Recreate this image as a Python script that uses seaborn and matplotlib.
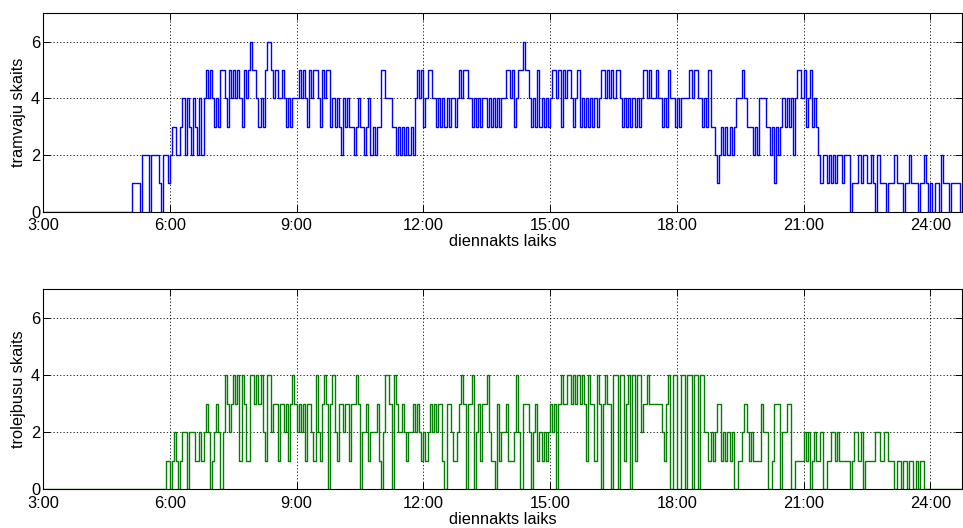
import numpy as np
import pandas as pd
import matplotlib
matplotlib.use("Agg")
import matplotlib.pyplot as plt
import seaborn as sns

# ---- data: counts per 3-minute slot, one string per hour (3:00 .. 24:45) ----
start_hour = 3
slot_minutes = 3
end_hour = 24.75

tram_hours = [
    "00000000000000000000",  # 3
    "00000000000000000000",  # 4
    "00111102220222210221",  # 5
    "23322342432432424545",  # 6
    "43435543545454354565",  # 7
    "54343566545445434344",  # 8
    "45454354554354553434",  # 9
    "32434332343323423233",  # 10
    "55444332323232324545",  # 11
    "34554434343434434545",  # 12
    "54434343443434343445",  # 13
    "54534556554343534343",  # 14
    "45545354554345343434",  # 15
    "34345545454554343434",  # 16
    "34345545445443435443",  # 17
    "43444454554434353321",  # 18
    "23232323444543332324",  # 19
    "44332313234343424554",  # 20
    "53453432122121212212",  # 21
    "22011121221121021110",  # 22
    "11121110112111011210",  # 23
    "101102111011110",       # 24
]

troll_hours = [
    "00000000000000000000",  # 3
    "00000000000000000000",  # 4
    "00000000000000000011",  # 5
    "01210122022211212320",  # 6
    "12320243234341431144",  # 7
    "34342144233133231343",  # 8
    "23231332142134303421",  # 9
    "33233133430223122231",  # 10
    "02443043223212232321",  # 11
    "21232323310332112343",  # 12
    "03340231334211031223",  # 13
    "11124203332023121212",  # 14
    "32303433443434343143",  # 15
    "31430343304404413404",  # 16
    "14423343333332134044",  # 17
    "00440440440442212123",  # 18
    "31212120011232121111",  # 19
    "32200133302233001111",  # 20
    "21201211200112212111",  # 21
    "11012212011111221122",  # 22
    "11101101101101011000",  # 23
    "000000000000000",       # 24
]

x_ticks = [3, 6, 9, 12, 15, 18, 21, 24]
x_tick_labels = ["3:00", "6:00", "9:00", "12:00", "15:00", "18:00", "21:00", "24:00"]
y_ticks = [0, 2, 4, 6]
y_labels = ["tramvaju skaits", "trolejbusu skaits"]
x_label = "diennakts laiks"
colors = ["#0000ff", "#008000"]


def to_frame(hours):
    vals = [int(c) for c in "".join(hours)]
    t = start_hour + np.arange(len(vals)) * slot_minutes / 60.0
    t = np.append(t, end_hour)
    vals.append(vals[-1])
    return pd.DataFrame({"t": t, "n": vals})


frames = [to_frame(tram_hours), to_frame(troll_hours)]

plt.rcParams["font.family"] = ["Liberation Sans", "DejaVu Sans"]
fig = plt.figure(figsize=(9.63, 5.28), dpi=100)
positions = [
    [43 / 963, 1 - 211.7 / 528, 919 / 963, 198.4 / 528],
    [43 / 963, 1 - 489.3 / 528, 919 / 963, 200.0 / 528],
]
fs = 11.8

for pos, df, col, ylab in zip(positions, frames, colors, y_labels):
    ax = fig.add_axes(pos)
    sns.lineplot(data=df, x="t", y="n", ax=ax, color=col, linewidth=1.0,
                 drawstyle="steps-post", estimator=None, sort=False)
    ax.set_xlim(start_hour, end_hour)
    ax.set_ylim(0, 7)
    ax.set_xticks(x_ticks)
    ax.set_xticklabels(x_tick_labels)
    ax.set_yticks(y_ticks)
    ax.grid(True, color="black", linestyle=(0, (1.5, 2.5)), linewidth=0.6)
    ax.set_axisbelow(True)
    ax.tick_params(direction="in", length=5, labelsize=fs, width=0.7,
                   top=True, right=True)
    ax.tick_params(axis="x", pad=4.5)
    ax.tick_params(axis="y", pad=2)
    for s in ax.spines.values():
        s.set_linewidth(0.8)
        s.set_color("black")
    ax.set_xlabel(x_label, fontsize=fs, labelpad=1.0)
    ax.set_ylabel(ylab, fontsize=fs, labelpad=3.8)

fig.savefig("out.png", dpi=100, facecolor="white")
